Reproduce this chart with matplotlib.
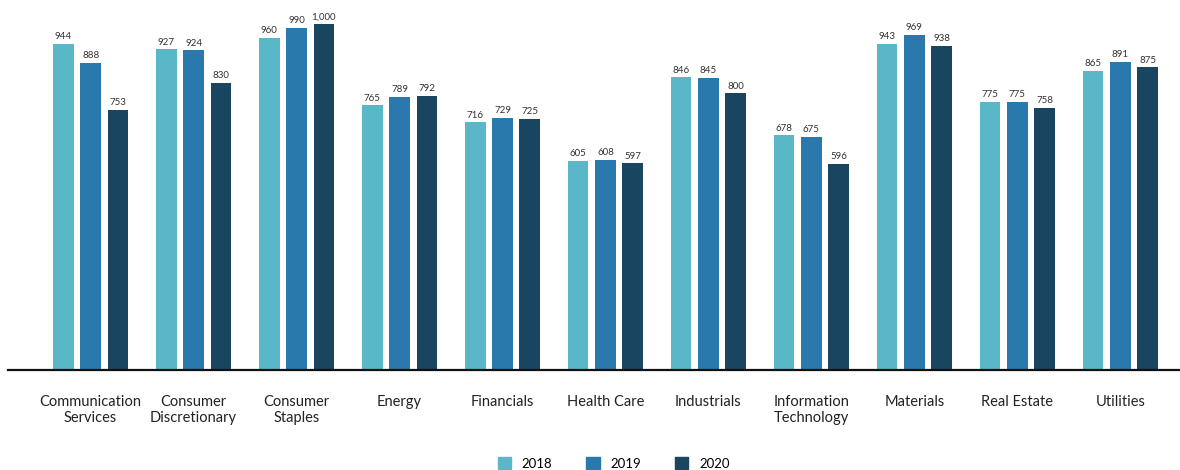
import numpy as np
import matplotlib.pyplot as plt
from matplotlib.patches import Patch

plt.rcParams['font.family'] = ['Lato', 'DejaVu Sans']

categories = ['Communication\nServices', 'Consumer\nDiscretionary', 'Consumer\nStaples', 'Energy',
              'Financials', 'Health Care', 'Industrials', 'Information\nTechnology',
              'Materials', 'Real Estate', 'Utilities']
years = ['2018', '2019', '2020']
v2018 = [944, 927, 960, 765, 716, 605, 846, 678, 943, 775, 865]
v2019 = [888, 924, 990, 789, 729, 608, 845, 675, 969, 775, 891]
v2020 = [753, 830, 1000, 792, 725, 597, 800, 596, 938, 758, 875]
colors = ['#5ab7c8', '#2a79ad', '#1a4561']

fig = plt.figure(figsize=(11.8, 4.7), dpi=100)
ax = fig.add_axes([0.007, 0.213, 0.993, 0.765])

x = np.arange(len(categories))
w = 0.2
off = 0.265
for i, (vals, c) in enumerate(zip([v2018, v2019, v2020], colors)):
    pos = x + (i - 1) * off
    ax.bar(pos, vals, width=w, color=c, label=years[i])
    for p, v in zip(pos, vals):
        ax.text(p, v + 8, f'{v:,}', ha='center', va='bottom', fontsize=7, color='#333333')

ax.set_xlim(-0.8, 10.58)
ax.set_ylim(0, 1040)
ax.set_yticks([])
ax.set_xticks(x)
ax.set_xticklabels(categories, fontsize=10.5, color='#222222', linespacing=1.15)
ax.tick_params(axis='x', length=0, pad=18)
for s in ['top', 'right', 'left']:
    ax.spines[s].set_visible(False)
ax.spines['bottom'].set_linewidth(1.6)
ax.spines['bottom'].set_color('#111111')

handles = [Patch(color=c, label=y) for c, y in zip(colors, years)]
fig.legend(handles=handles, loc='lower center', bbox_to_anchor=(0.52, -0.025), ncol=3,
           frameon=False, fontsize=9.5, handlelength=1.0, handleheight=1.0,
           columnspacing=2.6, handletextpad=0.8)

fig.savefig('out.png', dpi=100)
